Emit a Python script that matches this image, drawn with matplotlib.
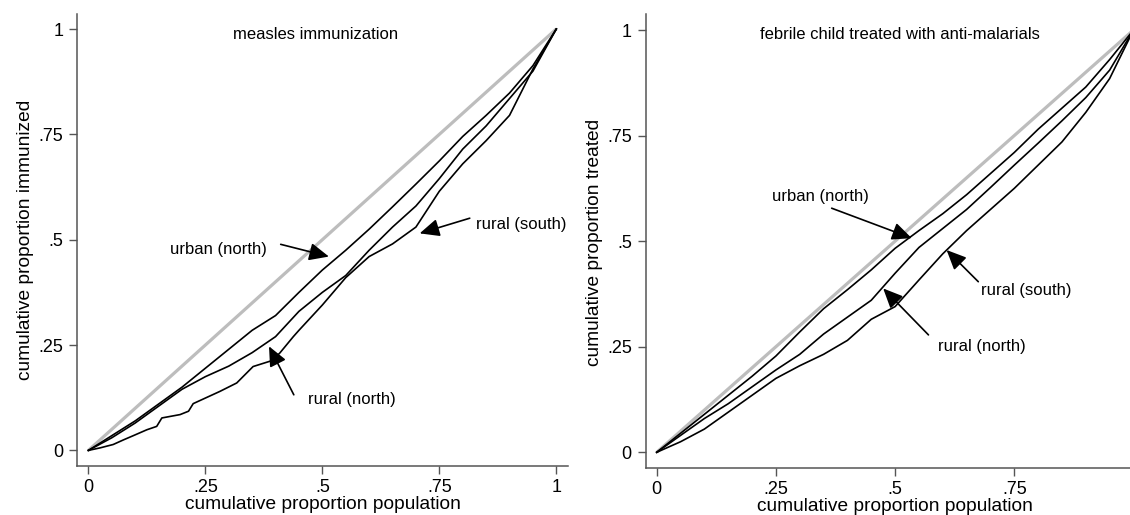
import matplotlib
matplotlib.use("Agg")
import matplotlib.pyplot as plt

plt.rcParams['font.family'] = ['Liberation Sans', 'DejaVu Sans']

# ---- data ----
pop_share = [0.00, 0.05, 0.10, 0.15, 0.20, 0.25, 0.30, 0.35, 0.40, 0.45, 0.50,
             0.55, 0.60, 0.65, 0.70, 0.75, 0.80, 0.85, 0.90, 0.95, 1.00]

# measles immunization
measles_urban_north = [0.000, 0.035, 0.070, 0.110, 0.150, 0.195, 0.240, 0.285, 0.320, 0.375, 0.428,
                       0.475, 0.525, 0.578, 0.632, 0.687, 0.745, 0.795, 0.848, 0.913, 1.000]
measles_rural_north = [0.000, 0.030, 0.065, 0.105, 0.145, 0.175, 0.200, 0.232, 0.270, 0.330, 0.375,
                       0.415, 0.475, 0.530, 0.580, 0.645, 0.715, 0.770, 0.835, 0.900, 1.000]
measles_rural_south_x = [0.000, 0.025, 0.053, 0.075, 0.096, 0.125, 0.146, 0.157, 0.196, 0.214,
                         0.224, 0.281, 0.317, 0.352, 0.392, 0.409, 0.438, 0.450, 0.500, 0.550,
                         0.600, 0.650, 0.700, 0.750, 0.800, 0.850, 0.900, 0.950, 1.000]
measles_rural_south = [0.000, 0.006, 0.014, 0.025, 0.035, 0.049, 0.057, 0.077, 0.085, 0.093,
                       0.111, 0.140, 0.160, 0.199, 0.213, 0.231, 0.270, 0.285, 0.345, 0.410,
                       0.460, 0.490, 0.530, 0.615, 0.680, 0.735, 0.795, 0.905, 1.000]

# febrile child treated with anti-malarials
malaria_urban_north = [0.000, 0.045, 0.090, 0.135, 0.180, 0.228, 0.285, 0.340, 0.385, 0.432, 0.483,
                       0.525, 0.565, 0.610, 0.660, 0.710, 0.765, 0.815, 0.865, 0.930, 1.000]
malaria_rural_north = [0.000, 0.040, 0.080, 0.115, 0.155, 0.195, 0.232, 0.280, 0.320, 0.360, 0.424,
                       0.485, 0.530, 0.575, 0.627, 0.680, 0.732, 0.785, 0.840, 0.905, 1.000]
malaria_rural_south = [0.000, 0.025, 0.055, 0.095, 0.135, 0.175, 0.205, 0.232, 0.265, 0.315, 0.345,
                       0.408, 0.470, 0.525, 0.575, 0.625, 0.680, 0.735, 0.805, 0.885, 1.000]

equality = [0.0, 1.0]
tick_vals = [0, 0.25, 0.5, 0.75, 1]
tick_labels = ['0', '.25', '.5', '.75', '1']

panel_titles = ['measles immunization', 'febrile child treated with anti-malarials']
y_labels = ['cumulative proportion immunized', 'cumulative proportion treated']
x_label = 'cumulative proportion population'

# annotation: (label, text position, arrow tail, arrow tip) in data units
measles_notes = [
    ('urban (north)', (0.279, 0.476), (0.411, 0.489), (0.514, 0.460)),
    ('rural (south)', (0.925, 0.535), (0.815, 0.551), (0.708, 0.515)),
    ('rural (north)', (0.564, 0.120), (0.439, 0.132), (0.386, 0.247)),
]
malaria_notes = [
    ('urban (north)', (0.3435, 0.605), (0.367, 0.578), (0.535, 0.507)),
    ('rural (south)', (0.776, 0.384), (0.6745, 0.404), (0.608, 0.479)),
    ('rural (north)', (0.682, 0.250), (0.570, 0.278), (0.475, 0.388)),
]

W, H = 1130, 515
fig = plt.figure(figsize=(W / 100, H / 100), dpi=100)

def px_axes(x0, x1, ytop, ybot):
    return fig.add_axes([x0 / W, 1 - ybot / H, (x1 - x0) / W, (ybot - ytop) / H])

ax1 = px_axes(77.3, 568.0, 14.0, 465.7)
ax2 = px_axes(645.7, 1145.4, 14.0, 468.3)

spine_col = '#555555'
panels = [
    (ax1, [(pop_share, measles_urban_north), (pop_share, measles_rural_north),
           (measles_rural_south_x, measles_rural_south)], measles_notes,
     (-0.0237, 1.025), (-0.0363, 1.0356), (0.485, 0.988), (-0.1056, 0.5), (0.500, -0.087)),
    (ax2, [(pop_share, malaria_urban_north), (pop_share, malaria_rural_north),
           (pop_share, malaria_rural_south)], malaria_notes,
     (-0.0231, 1.025), (-0.0379, 1.0379), (0.510, 0.990), (-0.1015, 0.497), (0.499, -0.0845)),
]

for i, (ax, curves, notes, xl, yl, tpos, ylpos, xlpos) in enumerate(panels):
    ax.plot(equality, equality, color='#bdbdbd', lw=2.3, zorder=2, solid_capstyle='butt')
    for cx, cy in curves:
        ax.plot(cx, cy, color='black', lw=1.2, zorder=3)
    ax.set_xlim(*xl)
    ax.set_ylim(*yl)
    ax.set_xticks(tick_vals)
    ax.set_xticklabels(tick_labels)
    ax.set_yticks(tick_vals)
    ax.set_yticklabels(tick_labels)
    for s in ['top', 'right']:
        ax.spines[s].set_visible(False)
    for s in ['left', 'bottom']:
        ax.spines[s].set_color(spine_col)
        ax.spines[s].set_linewidth(1.1)
    ax.tick_params(axis='both', direction='out', length=6, width=1.0, color=spine_col,
                   labelsize=13, labelcolor='black')
    ax.tick_params(axis='x', pad=3.5)
    ax.tick_params(axis='y', pad=4)
    ax.text(tpos[0], tpos[1], panel_titles[i], ha='center', va='center', fontsize=12)
    ax.set_ylabel(y_labels[i], fontsize=13.8)
    ax.yaxis.set_label_coords(*ylpos)
    ax.yaxis.label.set_va('center')
    ax.set_xlabel(x_label, fontsize=13.8)
    ax.xaxis.set_label_coords(*xlpos)
    ax.xaxis.label.set_va('center')
    for label, tp, tail, tip in notes:
        ax.text(tp[0], tp[1], label, ha='center', va='center', fontsize=12)
        ax.annotate('', xy=tip, xytext=tail,
                    arrowprops=dict(arrowstyle='-|>,head_length=0.6,head_width=0.27',
                                    color='black', lw=1.2, shrinkA=0, shrinkB=0,
                                    mutation_scale=20))

fig.savefig('out.png', dpi=100)
